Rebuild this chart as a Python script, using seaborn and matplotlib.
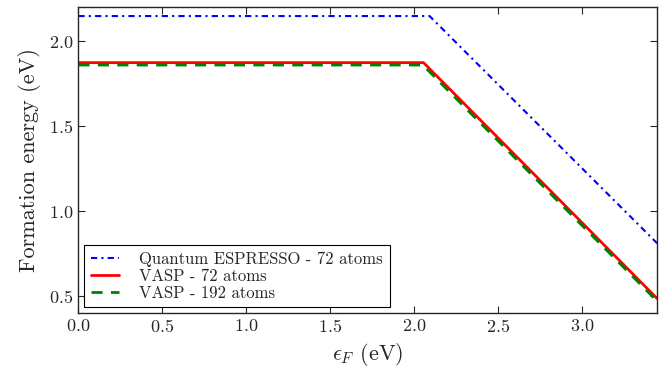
import seaborn as sns
import matplotlib.pyplot as plt
import pandas as pd

# formation energy vs Fermi level
ef_qe = [0.0, 2.09, 3.445]
e_qe = [2.147, 2.147, 0.81]
ef_vasp72 = [0.0, 2.054, 3.445]
e_vasp72 = [1.873, 1.873, 0.485]
ef_vasp192 = [0.0, 2.05, 3.445]
e_vasp192 = [1.859, 1.859, 0.47]

labels = ['Quantum ESPRESSO - 72 atoms', 'VASP - 72 atoms', 'VASP - 192 atoms']

sns.set_style('ticks')
plt.rcParams['font.family'] = 'serif'
plt.rcParams['font.serif'] = ['cmr10', 'DejaVu Serif']
plt.rcParams['mathtext.fontset'] = 'cm'
plt.rcParams['axes.formatter.use_mathtext'] = True

df = pd.concat([
    pd.DataFrame({'ef': ef_qe, 'E': e_qe, 'calc': labels[0]}),
    pd.DataFrame({'ef': ef_vasp72, 'E': e_vasp72, 'calc': labels[1]}),
    pd.DataFrame({'ef': ef_vasp192, 'E': e_vasp192, 'calc': labels[2]}),
])

fig = plt.figure(figsize=(6.7, 3.71), dpi=100)
ax = fig.add_axes([0.117, 0.156, 0.864, 0.825])

styles = {labels[0]: ('blue', (0, (3, 2, 1, 2)), 1.5),
          labels[1]: ('red', '-', 2.0),
          labels[2]: ('green', (0, (4, 3)), 2.0)}
for lab in labels:
    c, ls, lw = styles[lab]
    sns.lineplot(data=df[df['calc'] == lab], x='ef', y='E', ax=ax, color=c,
                 linestyle=ls, linewidth=lw, label=lab)

ax.set_xlim(0, 3.445)
ax.set_ylim(0.40, 2.20)
ax.set_xticks([0.0, 0.5, 1.0, 1.5, 2.0, 2.5, 3.0])
ax.set_yticks([0.5, 1.0, 1.5, 2.0])
ax.tick_params(direction='in', top=True, right=True, labelsize=13, length=5)
ax.set_xlabel(r'$\epsilon_F$ (eV)', fontsize=16, labelpad=4)
ax.set_ylabel('Formation energy (eV)', fontsize=16, labelpad=6)
for s in ax.spines.values():
    s.set_linewidth(1.0)

leg = ax.legend(loc='lower left', fontsize=12, frameon=True, fancybox=False,
                edgecolor='black', framealpha=1, handlelength=1.7,
                handletextpad=1.2, borderaxespad=0.35, labelspacing=0.1)
leg.get_frame().set_linewidth(0.8)

plt.savefig('out.png', dpi=100)
